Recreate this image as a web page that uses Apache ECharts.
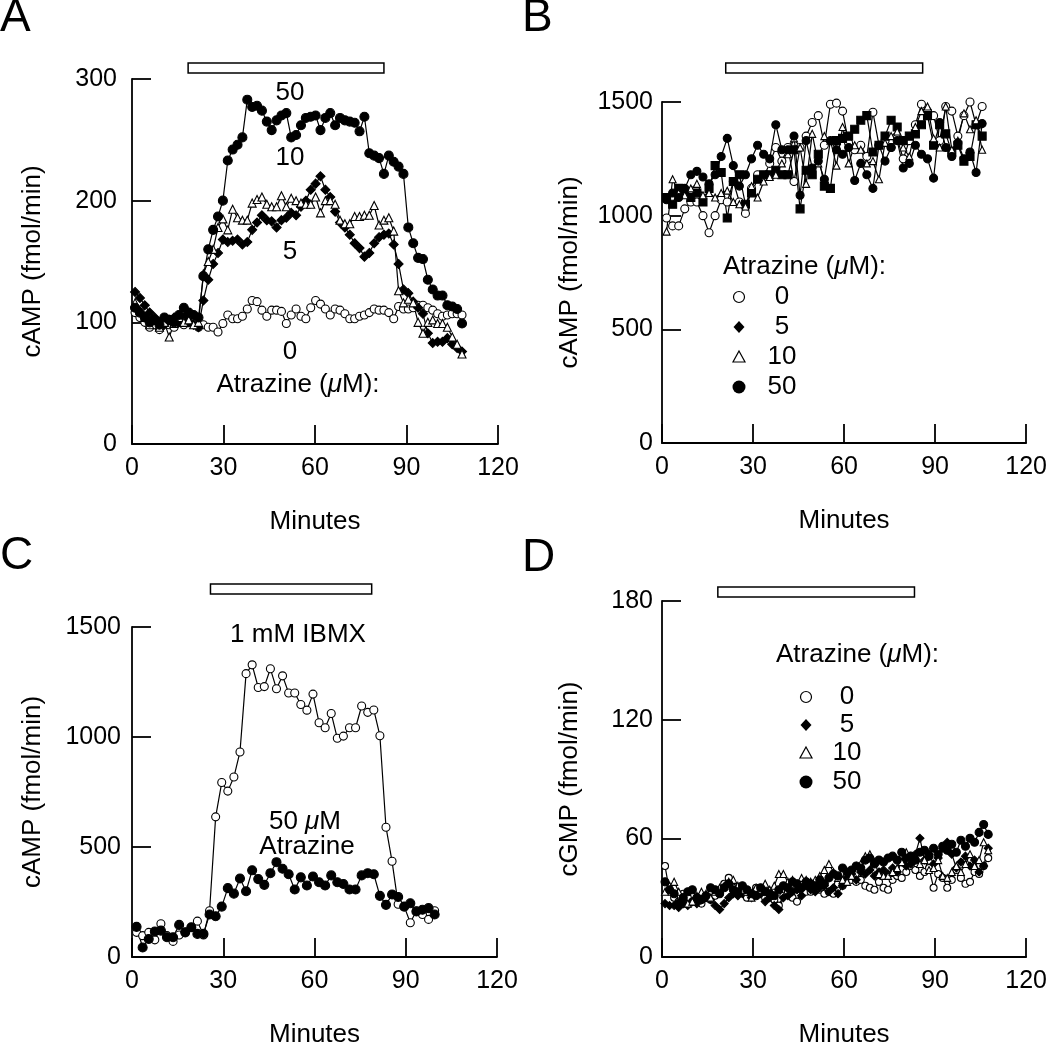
<!DOCTYPE html>
<html>
<head>
<meta charset="utf-8">
<script src="https://cdn.jsdelivr.net/npm/echarts/dist/echarts.min.js"></script>
<style>
html, body { margin: 0; padding: 0; background: #fff; }
#main { width: 1050px; height: 1049px; }
</style>
</head>
<body>
<div id="main"></div>
<script>
// ---- panel A : cAMP, atrazine 0/5/10/50 uM ----
var timesA = [1.0, 2.6, 4.2, 5.8, 7.4, 9.0, 10.6, 12.2, 13.8, 15.4,
    17.0, 18.6, 20.2, 21.8, 23.4, 25.0, 26.6, 28.2, 29.8, 31.4,
    33.0, 34.6, 36.2, 37.8, 39.4, 41.0, 42.6, 44.2, 45.8, 47.4,
    49.0, 50.6, 52.2, 53.8, 55.4, 57.0, 58.6, 60.2, 61.8, 63.4,
    65.0, 66.6, 68.2, 69.8, 71.4, 73.0, 74.6, 76.2, 77.8, 79.4,
    81.0, 82.6, 84.2, 85.8, 87.4, 89.0, 90.6, 92.2, 93.8, 95.4,
    97.0, 98.6, 100.2, 101.8, 103.4, 105.0, 106.6, 108.2];
var a0 = [108, 104, 100, 96, 98, 94, 100, 98, 96, 100,
    98, 100, 98, 96, 98, 96, 96, 92, 99, 106,
    103, 103, 105, 111, 118, 117, 110, 105, 110, 110,
    109, 99, 106, 111, 105, 103, 112, 118, 115, 111,
    106, 111, 110, 107, 103, 103, 105, 106, 108, 111,
    110, 110, 108, 103, 113, 111, 111, 112, 114, 114,
    112, 110, 107, 105, 106, 107, 107, 106];
var a5 = [125, 120, 114, 108, 104, 100, 98, 102, 104, 100,
    104, 100, 98, 96, 118, 135, 148, 157, 168, 166,
    167, 168, 164, 166, 176, 182, 188, 184, 183, 178,
    184, 186, 190, 188, 195, 200, 209, 214, 220, 209,
    203, 191, 182, 178, 172, 165, 161, 154, 157, 165,
    170, 172, 173, 164, 148, 127, 124, 117, 112, 107,
    91, 83, 84, 84, 87, 82, 79, 76];
var a10 = [116, 110, 104, 98, 102, 96, 100, 88, 99, 104,
    100, 102, 98, 100, 140, 150, 160, 178, 185, 176,
    193, 186, 184, 184, 198, 201, 203, 197, 195, 195,
    204, 195, 202, 200, 198, 197, 197, 203, 190, 200,
    200, 197, 184, 181, 181, 187, 187, 188, 188, 196,
    180, 184, 186, 175, 126, 116, 119, 116, 100, 91,
    100, 102, 99, 99, 96, 88, 82, 74];
var a50 = [112, 108, 104, 100, 102, 98, 104, 102, 100, 106,
    112, 108, 106, 104, 138, 160, 176, 187, 200, 233,
    242, 246, 252, 283, 277, 278, 274, 265, 258, 266,
    270, 272, 252, 254, 262, 268, 269, 270, 258, 268,
    272, 262, 268, 266, 265, 264, 257, 269, 239, 237,
    235, 222, 237, 232, 228, 222, 178, 165, 153, 152,
    135, 127, 122, 122, 114, 113, 111, 99];

// ---- panel B : cAMP, sampled every 2 min ----
var timesB = [1.5, 3.5, 5.5, 7.5, 9.5, 11.5, 13.5, 15.5, 17.5, 19.5,
    21.5, 23.5, 25.5, 27.5, 29.5, 31.5, 33.5, 35.5, 37.5, 39.5,
    41.5, 43.5, 45.5, 47.5, 49.5, 51.5, 53.5, 55.5, 57.5, 59.5,
    61.5, 63.5, 65.5, 67.5, 69.5, 71.5, 73.5, 75.5, 77.5, 79.5,
    81.5, 83.5, 85.5, 87.5, 89.5, 91.5, 93.5, 95.5, 97.5, 99.5,
    101.5, 103.5, 105.5];
var b0 = [990, 955, 955, 1030, 1060, 1060, 1000, 925, 1000, 1070,
    1060, 1150, 1060, 1010, 1120, 1180, 1170, 1230, 1300, 1240,
    1300, 1150, 1300, 1350, 1410, 1440, 1310, 1490, 1495, 1460,
    1320, 1290, 1310, 1260, 1455, 1310, 1330, 1300, 1340, 1250,
    1330, 1400, 1490, 1460, 1440, 1330, 1480, 1460, 1350, 1440,
    1500, 1400, 1480];
var b5 = [1080, 1050, 1120, 1100, 1080, 1100, 1060, 1120, 1220, 1190,
    990, 1150, 1180, 1050, 1100, 1160, 1180, 1180, 1200, 1180,
    1180, 1290, 1030, 1200, 1180, 1270, 1130, 1120, 1330, 1340,
    1350, 1380, 1420, 1440, 1280, 1310, 1350, 1420, 1390, 1330,
    1350, 1360, 1400, 1440, 1310, 1400, 1360, 1280, 1310, 1240,
    1260, 1400, 1350];
var b10 = [930, 1160, 1100, 1090, 1120, 1140, 1090, 1100, 1080, 1100,
    1110, 1060, 1050, 1040, 1130, 1080, 1150, 1170, 1180, 1230,
    1270, 1340, 1300, 1140, 1360, 1230, 1350, 1330, 1220, 1390,
    1230, 1310, 1290, 1230, 1240, 1160, 1320, 1350, 1370, 1300,
    1260, 1390, 1460, 1480, 1340, 1300, 1480, 1290, 1330, 1450,
    1380, 1420, 1290];
var b50 = [1070, 1100, 1080, 1120, 1180, 1195, 1170, 1140, 1180, 1260,
    1340, 1220, 1130, 1180, 1250, 1310, 1270, 1250, 1400, 1290,
    1290, 1350, 1090, 1330, 1210, 1240, 1160, 1330, 1290, 1270,
    1300, 1155, 1230, 1180, 1120, 1310, 1240, 1300, 1330, 1210,
    1230, 1310, 1270, 1250, 1165, 1410, 1300, 1260, 1320, 1250,
    1280, 1190, 1405];

// ---- panel C : cAMP, IBMX vs 50 uM atrazine ----
var timesC = [1.5, 3.5, 5.5, 7.5, 9.5, 11.5, 13.5, 15.5, 17.5, 19.5,
    21.5, 23.5, 25.5, 27.5, 29.5, 31.5, 33.5, 35.5, 37.5, 39.5,
    41.5, 43.5, 45.5, 47.5, 49.5, 51.5, 53.5, 55.5, 57.5, 59.5,
    61.5, 63.5, 65.5, 67.5, 69.5, 71.5, 73.5, 75.5, 77.5, 79.5,
    81.5, 83.5, 85.5, 87.5, 89.5, 91.5, 93.5, 95.5, 97.5, 99.5];
var cIbmx = [112, 97, 112, 78, 151, 97, 71, 100, 112, 134,
    163, 100, 210, 637, 793, 754, 818, 932, 1288, 1328,
    1225, 1229, 1310, 1219, 1278, 1200, 1200, 1148, 1122, 1195,
    1065, 1042, 1107, 994, 1004, 1042, 1042, 1141, 1112, 1123,
    1006, 590, 435, 240, 229, 156, 210, 193, 171, 210];
var cAtra = [137, 43, 82, 116, 120, 90, 90, 146, 112, 135,
    105, 105, 193, 185, 229, 313, 288, 357, 299, 394,
    354, 328, 381, 431, 401, 376, 307, 362, 325, 366,
    340, 325, 371, 340, 332, 307, 307, 371, 381, 376,
    278, 237, 284, 273, 229, 244, 207, 215, 222, 193];

// ---- panel D : cGMP ----
var timesD = [1, 2.5, 4, 5.5, 7, 8.5, 10, 11.5, 13, 14.5,
    16, 17.5, 19, 20.5, 22, 23.5, 25, 26.5, 28, 29.5,
    31, 32.5, 34, 35.5, 37, 38.5, 40, 41.5, 43, 44.5,
    46, 47.5, 49, 50.5, 52, 53.5, 55, 56.5, 58, 59.5,
    61, 62.5, 64, 65.5, 67, 68.5, 70, 71.5, 73, 74.5,
    76, 77.5, 79, 80.5, 82, 83.5, 85, 86.5, 88, 89.5,
    91, 92.5, 94, 95.5, 97, 98.5, 100, 101.5, 103, 104.5,
    106, 107.5];
var d0 = [46, 33, 30, 28, 32, 30, 28, 29, 27, 30,
    29, 31, 33, 37, 40, 35, 33, 34, 30, 31,
    35, 33, 30, 32, 29, 26, 31, 33, 30, 28,
    35, 33, 33, 36, 34, 32, 33, 32, 37, 36,
    41, 39, 38, 39, 36, 35, 34, 38, 35, 34,
    39, 41, 40, 43, 46, 44, 41, 43, 45, 35,
    42, 40, 35, 39, 44, 40, 37, 38, 43, 42,
    46, 50];
var d5 = [27, 26, 26, 25, 27, 26, 28, 27, 29, 30,
    29, 26, 24, 27, 30, 32, 31, 32, 33, 30,
    34, 32, 28, 30, 26, 24, 30, 31, 33, 34,
    31, 36, 34, 33, 35, 36, 33, 35, 32, 36,
    40, 42, 39, 43, 42, 44, 41, 43, 44, 42,
    45, 43, 48, 46, 47, 52, 60, 49, 52, 47,
    50, 55, 58, 52, 45, 48, 51, 46, 49, 43,
    46, 55];
var d10 = [33, 36, 38, 33, 30, 27, 28, 31, 33, 32,
    30, 33, 35, 36, 38, 39, 36, 34, 33, 30,
    35, 34, 37, 34, 36, 42, 42, 38, 39, 37,
    40, 39, 38, 39, 41, 44, 47, 43, 40, 39,
    38, 41, 46, 47, 51, 52, 48, 42, 41, 41,
    43, 45, 48, 53, 51, 50, 47, 49, 44, 45,
    49, 41, 40, 43, 46, 43, 47, 52, 46, 49,
    58, 54];
var d50 = [38, 34, 32, 27, 30, 33, 34, 30, 29, 31,
    35, 34, 32, 35, 37, 34, 33, 36, 34, 32,
    31, 35, 33, 32, 31, 34, 36, 35, 38, 37,
    35, 38, 37, 36, 39, 37, 40, 42, 41, 45,
    43, 44, 46, 45, 49, 50, 47, 49, 48, 50,
    51, 49, 53, 50, 51, 49, 53, 54, 51, 55,
    52, 56, 54, 57, 53, 59, 56, 60, 58, 63,
    67, 62];

// treatment bars (minutes), one per panel A, B, C, D
var barStart = [18.4, 21.0, 25.8, 18.4];
var barEnd = [82.6, 85.9, 78.8, 83.2];

var yMax = [300, 1500, 1500, 180];
var yStep = [100, 500, 500, 60];
var yNames = ['cAMP (fmol/min)', 'cAMP (fmol/min)', 'cAMP (fmol/min)', 'cGMP (fmol/min)'];
var legendLabels = ['0', '5', '10', '50'];

var FONT = 'Liberation Sans';

var chart = echarts.init(document.getElementById('main'));

var grids = [
    {left: 132, top: 79, width: 366, height: 365},
    {left: 662, top: 102, width: 366, height: 341},
    {left: 132, top: 627, width: 365, height: 340},
    {left: 662, top: 601, width: 366, height: 366}
];
var labelMargin = [15, 9, 11, 9];
var nameGapY = [86, 79, 86, 79];

var xAxes = [], yAxes = [];
for (var i = 0; i < 4; i++) {
    xAxes.push({
        type: 'value', gridIndex: i, min: 0, max: 120, interval: 30,
        name: 'Minutes', nameLocation: 'middle', nameGap: 65,
        nameTextStyle: {color: '#000', fontSize: 26, fontFamily: FONT},
        axisLine: {lineStyle: {color: '#000', width: 1.8}},
        axisTick: {inside: true, length: 19, lineStyle: {color: '#000', width: 1.8}},
        axisLabel: {color: '#000', fontSize: 25, fontFamily: FONT, margin: 12},
        splitLine: {show: false}
    });
    yAxes.push({
        type: 'value', gridIndex: i, min: 0, max: yMax[i], interval: yStep[i],
        name: yNames[i], nameLocation: 'middle', nameGap: nameGapY[i],
        nameTextStyle: {color: '#000', fontSize: 26, fontFamily: FONT},
        axisLine: {lineStyle: {color: '#000', width: 1.8}},
        axisTick: {inside: true, length: 19, lineStyle: {color: '#000', width: 1.8}},
        axisLabel: {color: '#000', fontSize: 25, fontFamily: FONT, margin: labelMargin[i],
            formatter: function (v) { return String(v); }},
        splitLine: {show: false}
    });
}

function mkSeries(name, panel, times, vals, symbol, fill, size) {
    return {
        type: 'line', name: name,
        xAxisIndex: panel, yAxisIndex: panel,
        data: times.map(function (t, k) { return [t, vals[k]]; }),
        symbol: symbol, symbolSize: size,
        showSymbol: true, showAllSymbol: true,
        lineStyle: {color: '#000', width: 1.2},
        itemStyle: {color: fill, borderColor: '#000', borderWidth: 1.1},
        emphasis: {disabled: true},
        animation: false
    };
}

var series = [
    mkSeries('0', 0, timesA, a0, 'circle', '#fff', 8),
    mkSeries('5', 0, timesA, a5, 'diamond', '#000', 9),
    mkSeries('10', 0, timesA, a10, 'triangle', '#fff', 8),
    mkSeries('50', 0, timesA, a50, 'circle', '#000', 9),

    mkSeries('0', 1, timesB, b0, 'circle', '#fff', 8),
    mkSeries('5', 1, timesB, b5, 'rect', '#000', 8),
    mkSeries('10', 1, timesB, b10, 'triangle', '#fff', 7),
    mkSeries('50', 1, timesB, b50, 'circle', '#000', 8),

    mkSeries('IBMX', 2, timesC, cIbmx, 'circle', '#fff', 8),
    mkSeries('Atrazine', 2, timesC, cAtra, 'circle', '#000', 9),

    mkSeries('0', 3, timesD, d0, 'circle', '#fff', 7),
    mkSeries('5', 3, timesD, d5, 'diamond', '#000', 8),
    mkSeries('10', 3, timesD, d10, 'triangle', '#fff', 7),
    mkSeries('50', 3, timesD, d50, 'circle', '#000', 8)
];

chart.setOption({
    backgroundColor: '#fff',
    animation: false,
    textStyle: {fontFamily: FONT},
    grid: grids,
    xAxis: xAxes,
    yAxis: yAxes,
    series: series
});

// ---- annotations ----
function txt(x, y, s, size, align) {
    return {
        type: 'text', x: x, y: y, silent: true,
        style: {
            text: s, fill: '#000', fontSize: size, fontFamily: FONT,
            align: align || 'center', verticalAlign: 'middle',
            rich: {i: {fontStyle: 'italic', fontSize: size, fontFamily: FONT, fill: '#000'}}
        }
    };
}

function marker(kind, x, y) {
    if (kind === 0) return {type: 'circle', shape: {cx: x, cy: y, r: 5.5}, style: {fill: '#fff', stroke: '#000', lineWidth: 1.2}};
    if (kind === 1) return {type: 'polygon', shape: {points: [[x, y - 6], [x + 5.5, y], [x, y + 6], [x - 5.5, y]]}, style: {fill: '#000'}};
    if (kind === 2) return {type: 'polygon', shape: {points: [[x, y - 6], [x + 6, y + 5], [x - 6, y + 5]]}, style: {fill: '#fff', stroke: '#000', lineWidth: 1.2}};
    return {type: 'circle', shape: {cx: x, cy: y, r: 6.5}, style: {fill: '#000'}};
}

var g = [];
// panel letters
g.push({type: 'text', x: 0, y: -5, style: {text: 'A', fontSize: 46, fontFamily: FONT, fill: '#000', verticalAlign: 'top'}});
g.push({type: 'text', x: 522, y: -5, style: {text: 'B', fontSize: 46, fontFamily: FONT, fill: '#000', verticalAlign: 'top'}});
g.push({type: 'text', x: 0, y: 533, style: {text: 'C', fontSize: 46, fontFamily: FONT, fill: '#000', verticalAlign: 'top'}});
g.push({type: 'text', x: 522, y: 535, style: {text: 'D', fontSize: 46, fontFamily: FONT, fill: '#000', verticalAlign: 'top'}});

// treatment bars
var barTop = [63, 63, 584, 587];
for (var p = 0; p < 4; p++) {
    var x1 = chart.convertToPixel({xAxisIndex: p}, barStart[p]);
    var x2 = chart.convertToPixel({xAxisIndex: p}, barEnd[p]);
    g.push({type: 'rect', shape: {x: x1, y: barTop[p], width: x2 - x1, height: 10},
        style: {fill: '#fff', stroke: '#000', lineWidth: 1.5}});
}

// panel A labels
g.push(txt(290, 93, '50', 26));
g.push(txt(290, 158, '10', 26));
g.push(txt(290, 252, '5', 26));
g.push(txt(290, 352, '0', 26));
g.push(txt(298, 385, 'Atrazine ({i|μ}M):', 26));

// panel C labels
g.push(txt(298, 635, '1 mM IBMX', 26));
g.push(txt(305, 822, '50 {i|μ}M', 26));
g.push(txt(307, 847, 'Atrazine', 26));

// legends for B and D
var legendPos = [
    {title: [723, 267], mx: 739, nx: 782, rows: [297, 327, 357, 387]},
    {title: [776, 655], mx: 806, nx: 847, rows: [697, 725, 753, 782]}
];
legendPos.forEach(function (L) {
    g.push(txt(L.title[0], L.title[1], 'Atrazine ({i|μ}M):', 26, 'left'));
    for (var k = 0; k < 4; k++) {
        g.push(marker(k, L.mx, L.rows[k]));
        g.push(txt(L.nx, L.rows[k], legendLabels[k], 26));
    }
});

chart.setOption({graphic: g});
</script>
</body>
</html>
